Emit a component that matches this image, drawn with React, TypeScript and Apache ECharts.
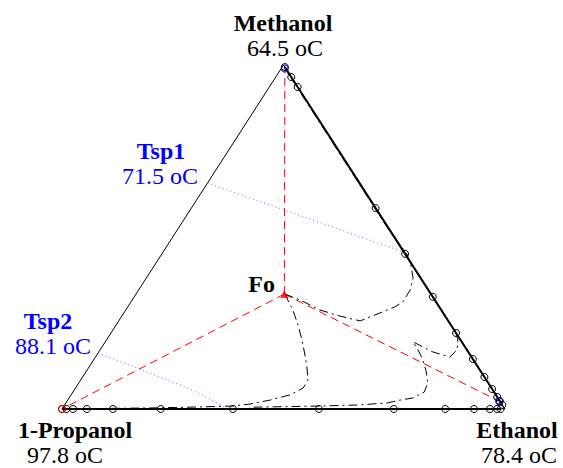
import React, { useEffect, useRef } from 'react';
import * as echarts from 'echarts';

// Component names and boiling points
const componentNames = ['Methanol', 'Ethanol', '1-Propanol'];
const boilingPoints = ['64.5 oC', '78.4 oC', '97.8 oC'];
const setPointNames = ['Tsp1', 'Tsp2'];
const setPointTemps = ['71.5 oC', '88.1 oC'];
const feedLabel = 'Fo';

// Compositions are [x_methanol, x_ethanol] (1-propanol = remainder)
// Methanol-Ethanol binary data: methanol fraction along that edge
const methEthEdgeXM = [0.994, 0.965, 0.936, 0.584, 0.451, 0.326, 0.221, 0.145, 0.093, 0.058, 0.035, 0.023, 0.012];
// Ethanol-1-Propanol binary data: ethanol fraction along that edge
const ethPropEdgeXE = [0.0, 0.01, 0.025, 0.056, 0.115, 0.223, 0.386, 0.58, 0.749, 0.865, 0.93, 0.966, 0.982, 0.99];

const feed = [0.334, 0.335];
const productTop = [0.99, 0.008];
const productRight = [0.023, 0.975];
const productLeft = [0.0, 0.0];

const tsp1Line = [[0.657, 0.0], [0.456, 0.544]];
const tsp2Line = [[0.163, 0.0], [0.07, 0.2315], [0.0436, 0.29], [0.0058, 0.363]];

const profileA = [
  [0.334, 0.336], [0.317, 0.379], [0.288, 0.438], [0.27, 0.493], [0.256, 0.545],
  [0.279, 0.578], [0.297, 0.603], [0.311, 0.614], [0.346, 0.613], [0.381, 0.602],
  [0.419, 0.578], [0.451, 0.553], [0.52, 0.478], [0.6, 0.398], [0.8, 0.198], [0.99, 0.008],
];
const profileB = [
  [0.334, 0.336], [0.288, 0.377], [0.244, 0.411], [0.201, 0.441], [0.157, 0.47],
  [0.122, 0.492], [0.084, 0.513], [0.061, 0.514], [0.041, 0.494], [0.026, 0.457],
  [0.0145, 0.417], [0.0087, 0.382], [0.006, 0.309], [0.003, 0.197], [0.0015, 0.085], [0.0, 0.003],
];
const profileC = [
  [0.221, 0.779], [0.201, 0.793], [0.172, 0.806], [0.151, 0.8], [0.166, 0.754],
  [0.195, 0.695], [0.177, 0.713], [0.148, 0.739], [0.113, 0.765], [0.0756, 0.788],
  [0.049, 0.793], [0.032, 0.776], [0.026, 0.75], [0.0174, 0.725], [0.0116, 0.66],
  [0.0087, 0.578], [0.005, 0.42],
];

const toXY = (p: number[]) => [p[1] + p[0] / 2, p[0]];

const SERIF = '"Liberation Serif", "Times New Roman", serif';

function textEl(text: string, x: number, y: number, bold: boolean, color: string, align = 'center') {
  return {
    type: 'text',
    x,
    y,
    silent: true,
    style: {
      text,
      font: `${bold ? 'bold ' : ''}24px ${SERIF}`,
      fill: color,
      align,
      verticalAlign: 'middle',
      textAlign: align,
      textVerticalAlign: 'middle',
    },
  };
}

export default function App() {
  const ref = useRef<HTMLDivElement>(null);

  useEffect(() => {
    if (!ref.current) return;
    const chart = echarts.init(ref.current, undefined, { renderer: 'svg' });

    const plainLine = (data: number[][], color: string, width: number, type: any) => ({
      type: 'line',
      data: data.map(toXY),
      symbol: 'none',
      silent: true,
      lineStyle: { color, width, type },
      emphasis: { disabled: true },
    });

    const markerLine = (data: number[][]) => ({
      type: 'line',
      data: data.map(toXY),
      symbol: 'circle',
      symbolSize: 7,
      silent: true,
      itemStyle: { color: 'rgba(0,0,0,0)', borderColor: '#000', borderWidth: 1 },
      lineStyle: { color: '#000', width: 2 },
      emphasis: { disabled: true },
      z: 5,
    });

    const option: any = {
      animation: false,
      grid: { left: 62, right: 58, top: 65, bottom: 59 },
      xAxis: { type: 'value', min: 0, max: 1, show: false },
      yAxis: { type: 'value', min: 0, max: 1, show: false },
      series: [
        plainLine([[0, 0], [1, 0], [0, 1], [0, 0]], '#000', 1, 'solid'),
        plainLine([feed, productTop], '#ff0000', 1, [8, 5]),
        plainLine([feed, productRight], '#ff0000', 1, [8, 5]),
        plainLine([feed, productLeft], '#ff0000', 1, [8, 5]),
        plainLine(tsp1Line, '#6666ff', 1, [1, 3]),
        plainLine(tsp2Line, '#6666ff', 1, [1, 3]),
        plainLine(profileA, '#000', 1, [9, 4, 2, 4]),
        plainLine(profileB, '#000', 1, [9, 4, 2, 4]),
        plainLine(profileC, '#000', 1, [9, 4, 2, 4]),
        markerLine(methEthEdgeXM.map((m) => [m, 1 - m])),
        markerLine(ethPropEdgeXE.map((e) => [0, e])),
        {
          type: 'scatter',
          data: [toXY(productTop), toXY(productRight)],
          symbol: 'circle',
          symbolSize: 7,
          silent: true,
          itemStyle: { color: 'rgba(0,0,0,0)', borderColor: '#0000cc', borderWidth: 1.2 },
          z: 6,
        },
        {
          type: 'scatter',
          data: [toXY(productLeft)],
          symbol: 'circle',
          symbolSize: 7,
          silent: true,
          itemStyle: { color: 'rgba(0,0,0,0)', borderColor: '#ff0000', borderWidth: 1.2 },
          z: 6,
        },
        {
          type: 'scatter',
          data: [toXY(feed)],
          symbol: 'triangle',
          symbolSize: 8,
          silent: true,
          itemStyle: { color: '#ff0000' },
          z: 6,
        },
      ],
      graphic: [
        textEl(componentNames[0], 283, 23, true, '#000'),
        textEl(boilingPoints[0], 285, 48, false, '#000'),
        textEl(componentNames[1], 517, 430, true, '#000'),
        textEl(boilingPoints[1], 519, 455, false, '#000'),
        textEl(componentNames[2], 75, 430, true, '#000'),
        textEl(boilingPoints[2], 65, 455, false, '#000'),
        textEl(setPointNames[0], 161, 151, true, '#0000ff'),
        textEl(setPointTemps[0], 160, 176, false, '#0000ff'),
        textEl(setPointNames[1], 48, 321, true, '#0000ff'),
        textEl(setPointTemps[1], 53, 346, false, '#0000ff'),
        textEl(feedLabel, 275, 284, true, '#000', 'right'),
      ],
    };

    chart.setOption(option);
    return () => chart.dispose();
  }, []);

  return (
    <div
      ref={ref}
      style={{ position: 'fixed', left: 0, top: 0, width: 563, height: 468, background: '#fff' }}
    />
  );
}
